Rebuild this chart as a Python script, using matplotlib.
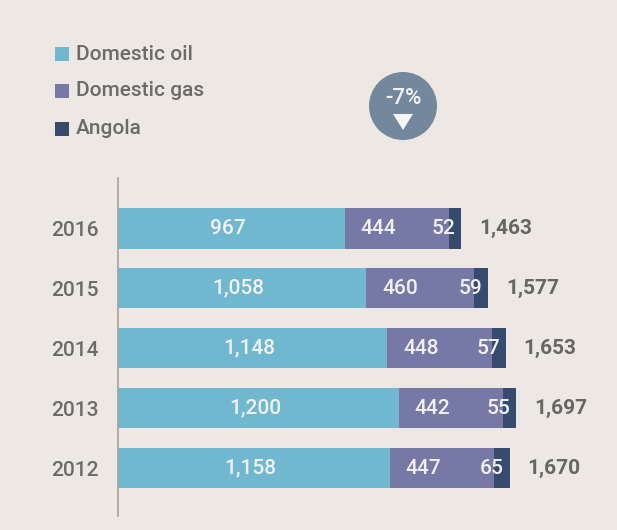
import matplotlib.pyplot as plt
from matplotlib.patches import Circle, Polygon, Rectangle

years = ["2012", "2013", "2014", "2015", "2016"]
oil = [1158, 1200, 1148, 1058, 967]
gas = [447, 442, 448, 460, 444]
angola = [65, 55, 57, 59, 52]
totals = [1670, 1697, 1653, 1577, 1463]
series_names = ["Domestic oil", "Domestic gas", "Angola"]
change_label = "-7%"

clrs = ["#6fb8cf", "#7679a6", "#374b6e"]
bg = "#ede8e4"
txt = "#6b6b6b"
plt.rcParams['font.family'] = ['Roboto', 'DejaVu Sans']
plt.rcParams['font.weight'] = 'medium'

W, H = 617, 530
fig = plt.figure(figsize=(W / 100, H / 100), dpi=100, facecolor=bg)

# main bar axes, placed in pixel terms
ax = fig.add_axes([118 / W, (H - 516) / H, (600 - 118) / W, 338 / H])
ax.set_facecolor(bg)
ypos = list(range(len(years)))
bh = 0.675
ax.barh(ypos, oil, height=bh, color=clrs[0], linewidth=0)
left2 = oil
ax.barh(ypos, gas, left=left2, height=bh, color=clrs[1], linewidth=0)
left3 = [o + g for o, g in zip(oil, gas)]
ax.barh(ypos, angola, left=left3, height=bh, color=clrs[2], linewidth=0)

ax.set_xlim(0, 482 / 0.2345)
ax.set_ylim(-0.8, len(years) - 1 + 0.84)
for s in ["top", "right", "bottom"]:
    ax.spines[s].set_visible(False)
ax.spines["left"].set_color("#a3a3a3")
ax.spines["left"].set_linewidth(1.2)
ax.set_xticks([])
ax.set_yticks(ypos)
ax.set_yticklabels(years, fontsize=15, color=txt)
ax.tick_params(axis="y", length=0, pad=14)

lab = "#f2f2f2"
for i in ypos:
    ax.text(oil[i] / 2 - 15, i, f"{oil[i]:,}", ha="center", va="center", color=lab, fontsize=15)
    ax.text(oil[i] + gas[i] * 0.32, i, f"{gas[i]:,}", ha="center", va="center", color=lab, fontsize=15)
    end = oil[i] + gas[i] + angola[i]
    ax.annotate(f"{angola[i]}", (end, i), xytext=(-4, 0), textcoords="offset points",
                ha="right", va="center", color=lab, fontsize=15)
    ax.annotate(f"{totals[i]:,}", (end, i), xytext=(13, 0), textcoords="offset points",
                ha="left", va="center", color="#666666", fontsize=15, fontweight="bold")

# overlay in pixel coordinates for legend and badge
ov = fig.add_axes([0, 0, 1, 1], facecolor="none")
ov.set_xlim(0, W)
ov.set_ylim(H, 0)
ov.axis("off")

leg_y = [54, 91, 129]
for name, c, y in zip(series_names, clrs, leg_y):
    ov.add_patch(Rectangle((55, y - 7), 14, 14, color=c, lw=0))
    ov.text(76, y, name, ha="left", va="center", color=txt, fontsize=15)

ov.add_patch(Circle((403, 106), 34, color="#73889c", lw=0))
ov.text(403, 99, change_label, ha="center", va="center", color="#f2f2f2", fontsize=16)
ov.add_patch(Polygon([(393, 114), (413, 114), (403, 130)], closed=True, color="#f5f5f5", lw=0))

plt.savefig("out.png", dpi=100, facecolor=bg)
